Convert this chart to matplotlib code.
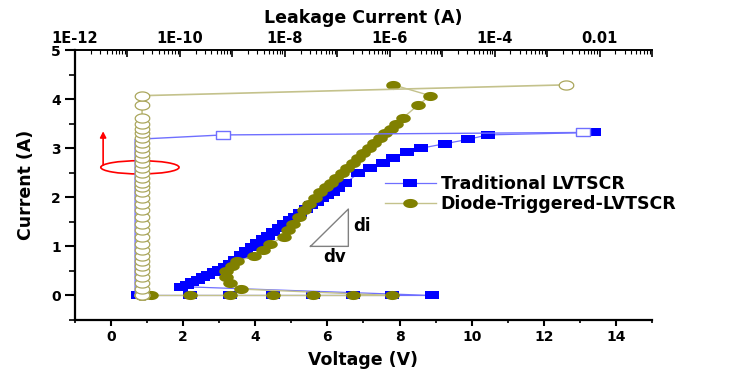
import numpy as np
import matplotlib
matplotlib.use('Agg')
import matplotlib.pyplot as plt
from matplotlib.patches import Ellipse
from matplotlib.path import Path
from matplotlib.ticker import MultipleLocator, FixedLocator, FixedFormatter, LogLocator, NullFormatter

# ---------------- data ----------------
# Traditional LVTSCR : TLP I-V (bottom axis) and leakage (top axis)
trad_v = [0.75, 2.2, 3.3, 4.5, 5.6, 6.7, 7.8, 8.9,
          1.95, 2.1, 2.25, 2.4, 2.55, 2.7, 2.85, 3.0, 3.15, 3.3,
          3.45, 3.6, 3.75, 3.9, 4.05, 4.2, 4.35, 4.5, 4.65, 4.8,
          4.95, 5.1, 5.25, 5.4, 5.55, 5.7, 5.85, 6.0, 6.15, 6.3,
          6.5, 6.86, 7.19, 7.53, 7.83, 8.2, 8.6, 9.25, 9.9, 10.44, 13.4]
trad_i = [0, 0, 0, 0, 0, 0, 0, 0,
          0.18, 0.22, 0.27, 0.32, 0.37, 0.42, 0.47, 0.52, 0.58, 0.65,
          0.73, 0.82, 0.90, 0.98, 1.06, 1.14, 1.22, 1.30, 1.38, 1.45,
          1.53, 1.60, 1.68, 1.76, 1.84, 1.91, 1.98, 2.05, 2.11, 2.18,
          2.29, 2.49, 2.59, 2.69, 2.80, 2.92, 3.00, 3.09, 3.18, 3.27, 3.32]
trad_leak = [1.4e-11, 1.4e-11, 1.4e-11, 1.4e-11, 1.4e-11, 1.4e-11, 1.4e-11, 1.4e-11,
             1.4e-11, 1.4e-11, 1.4e-11, 1.4e-11, 1.4e-11, 1.4e-11, 1.4e-11, 1.4e-11, 1.4e-11, 1.4e-11,
             1.4e-11, 1.4e-11, 1.4e-11, 1.4e-11, 1.4e-11, 1.4e-11, 1.4e-11, 1.4e-11, 1.4e-11, 1.4e-11,
             1.4e-11, 1.4e-11, 1.4e-11, 1.4e-11, 1.4e-11, 1.4e-11, 1.4e-11, 1.4e-11, 1.4e-11, 1.4e-11,
             1.4e-11, 1.4e-11, 1.4e-11, 1.4e-11, 1.4e-11, 1.4e-11, 1.4e-11, 1.4e-11, 1.4e-11, 6.6e-10, 4.8e-3]

# Diode-Triggered-LVTSCR
dt_v = [1.1, 2.2, 3.3, 4.5, 5.6, 6.7, 7.8,
        3.6, 3.3, 3.2, 3.2, 3.35, 3.5, 3.95, 4.2, 4.42,
        4.8, 4.92, 5.05, 5.2, 5.35, 5.5, 5.65, 5.8, 5.95, 6.1, 6.25,
        6.4, 6.55, 6.7, 6.85, 7.0, 7.15, 7.3, 7.45, 7.6, 7.75, 7.9,
        8.1, 8.5, 8.85, 7.83]
dt_i = [0, 0, 0, 0, 0, 0, 0,
        0.13, 0.26, 0.38, 0.50, 0.60, 0.70, 0.80, 0.93, 1.05,
        1.20, 1.33, 1.46, 1.60, 1.74, 1.87, 1.99, 2.10, 2.20, 2.30, 2.40,
        2.50, 2.60, 2.70, 2.80, 2.90, 3.00, 3.10, 3.20, 3.30, 3.40, 3.50,
        3.62, 3.87, 4.07, 4.29]
dt_leak = [1.9e-11, 1.9e-11, 1.9e-11, 1.9e-11, 1.9e-11, 1.9e-11, 1.9e-11,
           1.9e-11, 1.9e-11, 1.9e-11, 1.9e-11, 1.9e-11, 1.9e-11, 1.9e-11, 1.9e-11, 1.9e-11,
           1.9e-11, 1.9e-11, 1.9e-11, 1.9e-11, 1.9e-11, 1.9e-11, 1.9e-11, 1.9e-11, 1.9e-11, 1.9e-11, 1.9e-11,
           1.9e-11, 1.9e-11, 1.9e-11, 1.9e-11, 1.9e-11, 1.9e-11, 1.9e-11, 1.9e-11, 1.9e-11, 1.9e-11, 1.9e-11,
           1.9e-11, 1.9e-11, 1.9e-11, 2.3e-3]

x_ticks = [0, 2, 4, 6, 8, 10, 12, 14]
y_ticks = [0, 1, 2, 3, 4, 5]
top_ticks = [1e-12, 1e-11, 1e-10, 1e-9, 1e-8, 1e-7, 1e-6, 1e-5, 1e-4, 1e-3, 1e-2, 1e-1]
top_labels = ['1E-12', '', '1E-10', '', '1E-8', '', '1E-6', '', '1E-4', '', '0.01', '']

# ---------------- style ----------------
plt.rcParams['font.family'] = ['DejaVu Sans']
plt.rcParams['font.weight'] = 'bold'

BLUE = '#0000ff'
BLUE_L = '#6f6fff'
OLIVE = '#808000'
OLIVE_L = '#c4c28c'
OLIVE_E = '#aaa65c'

th = np.linspace(0, 2 * np.pi, 41)
ell_marker = Path(np.column_stack([1.6 * np.cos(th), np.sin(th)]))
rect_marker = Path([(-1.6, -1), (1.6, -1), (1.6, 1), (-1.6, 1), (-1.6, -1)],
                   [Path.MOVETO, Path.LINETO, Path.LINETO, Path.LINETO, Path.CLOSEPOLY])

fig = plt.figure(figsize=(7.38, 3.70), dpi=100)
ax = fig.add_axes([75 / 738, 1 - 320 / 370, (652 - 75) / 738, (320 - 50) / 370])
ax2 = ax.twiny()

# TLP curves
l1, = ax.plot(trad_v, trad_i, color=BLUE_L, lw=0.9, marker=rect_marker, ms=10,
              mfc=BLUE, mec=BLUE, mew=0, label='Traditional LVTSCR', zorder=3)
l2, = ax.plot(dt_v, dt_i, color=OLIVE_L, lw=1.0, marker=ell_marker, ms=10.5,
              mfc=OLIVE, mec=OLIVE, mew=0, label='Diode-Triggered-LVTSCR', zorder=4)

# Leakage curves
ax2.plot(trad_leak, trad_i, color=BLUE_L, lw=1.0, zorder=2)
ax2.plot(trad_leak, trad_i, color=BLUE_L, lw=0, marker=rect_marker, ms=10,
         mfc='white', mec=BLUE_L, mew=1.0, markevery=[len(trad_i) - 2, len(trad_i) - 1], zorder=2)
ax2.plot(dt_leak, dt_i, color=OLIVE_L, lw=1.2, marker=ell_marker, ms=10.5,
         mfc='white', mec=OLIVE_E, mew=0.9, zorder=3)

# axes setup
ax.set_xlim(-1, 15)
ax.set_ylim(-0.5, 5)
ax.xaxis.set_major_locator(FixedLocator(x_ticks))
ax.xaxis.set_minor_locator(MultipleLocator(1))
ax.yaxis.set_major_locator(FixedLocator(y_ticks))
ax.yaxis.set_minor_locator(MultipleLocator(0.5))
for s in ['top', 'right']:
    ax.spines[s].set_visible(False)
for s in ['left', 'bottom']:
    ax.spines[s].set_linewidth(1.6)
ax.tick_params(axis='x', which='major', direction='out', length=4, width=1.5, labelsize=10, pad=3)
ax.tick_params(axis='x', which='minor', direction='out', length=2.5, width=1.2)
ax.tick_params(axis='y', which='major', direction='out', length=7, width=1.5, labelsize=10, pad=3)
ax.tick_params(axis='y', which='minor', direction='out', length=4, width=1.2)
for lab in ax.get_xticklabels() + ax.get_yticklabels():
    lab.set_fontweight('bold')
ax.set_xlabel('Voltage (V)', fontsize=12.5, fontweight='bold', labelpad=5)
ax.set_ylabel('Current (A)', fontsize=12.5, fontweight='bold', labelpad=12)

ax2.set_xscale('log')
ax2.set_xlim(1e-12, 1e-1)
ax2.xaxis.set_major_locator(FixedLocator(top_ticks))
ax2.xaxis.set_major_formatter(FixedFormatter(top_labels))
ax2.xaxis.set_minor_locator(LogLocator(base=10, subs=np.arange(2, 10), numticks=100))
ax2.xaxis.set_minor_formatter(NullFormatter())
for s in ['left', 'right', 'bottom']:
    ax2.spines[s].set_visible(False)
ax2.spines['top'].set_linewidth(1.4)
ax2.tick_params(axis='x', which='major', direction='in', length=5, width=1.2, labelsize=10.5, pad=3)
ax2.tick_params(axis='x', which='minor', direction='in', length=3, width=0.8)
for lab in ax2.get_xticklabels():
    lab.set_fontweight('bold')
ax2.set_xlabel('Leakage Current (A)', fontsize=12.5, fontweight='bold', labelpad=6)

# annotations
ax.add_patch(Ellipse((0.8, 2.61), 2.17, 0.27, fill=False, edgecolor='red', lw=1.2, zorder=6))
ax.annotate('', xy=(-0.22, 3.4), xytext=(-0.22, 2.6),
            arrowprops=dict(arrowstyle='-|>,head_width=0.18,head_length=0.35', color='red', lw=1.2), zorder=6)
ax.plot([5.53, 6.58, 6.58, 5.53], [1.0, 1.0, 1.76, 1.0], color='#808080', lw=1.0, zorder=5)
ax.text(6.72, 1.42, 'di', fontsize=12, fontweight='bold', ha='left', va='center')
ax.text(6.2, 0.78, 'dv', fontsize=12, fontweight='bold', ha='center', va='center')

leg = fig.legend(handles=[l1, l2], loc='upper left', bbox_to_anchor=(0.522, 0.528),
                 frameon=False, handlelength=2.9, handletextpad=0.3,
                 labelspacing=0.12, borderpad=0, borderaxespad=0, numpoints=1,
                 prop={'weight': 'bold', 'size': 12.5})

fig.savefig('out.png', dpi=100)
